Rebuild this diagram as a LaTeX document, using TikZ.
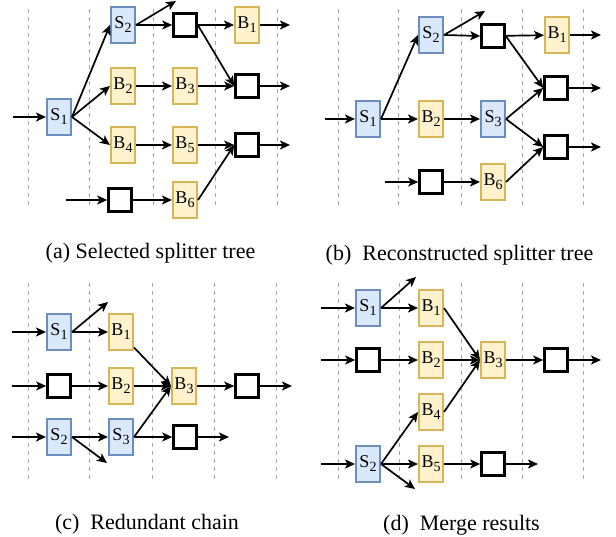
\documentclass[tikz,border=0pt]{standalone}
\usepackage{fontspec}
\setmainfont{Liberation Serif}
\usetikzlibrary{arrows.meta}
\definecolor{blueF}{HTML}{DAE8FC}
\definecolor{blueB}{HTML}{6C8EBF}
\definecolor{yelF}{HTML}{FFF2CC}
\definecolor{yelB}{HTML}{D6B656}
\newcommand\lbl[2]{#1\raisebox{-0.22em}{\fontsize{14}{14}\selectfont #2}}
\tikzset{
  bl/.style={draw=blueB, fill=blueF, line width=2pt, minimum width=24pt, minimum height=36pt, inner sep=0pt, font=\fontsize{18}{18}\selectfont},
  yl/.style={draw=yelB, fill=yelF, line width=2pt, minimum width=24pt, minimum height=36pt, inner sep=0pt, font=\fontsize{18}{18}\selectfont},
  eb/.style={draw=black, fill=white, line width=2.6pt, minimum width=23pt, minimum height=23pt, inner sep=0pt},
  ar/.style={-{Stealth[length=10pt,width=9pt,inset=2.5pt]}, line width=1.7pt},
  gridl/.style={draw=gray!70, dash pattern=on 4pt off 4pt, line width=0.8pt},
  captxt/.style={anchor=base, font=\fontsize{22}{22}\selectfont, inner sep=0pt},
}
\begin{document}
\begin{tikzpicture}[x=1pt,y=-1pt]
\useasboundingbox (0,0) rectangle (616,537);
% grid lines
\foreach \x in {28,89,153,215,277}{\draw[gridl] (\x,9) -- (\x,209);}
\foreach \x in {338,398,461,522,583}{\draw[gridl] (\x,9) -- (\x,209);}
\foreach \x in {28,89,152,214,276}{\draw[gridl] (\x,283) -- (\x,483);}
\foreach \x in {338,399,461,522,583}{\draw[gridl] (\x,283) -- (\x,483);}

% ---------------- (a)
\node[bl] (aS1) at (59,117) {\lbl{S}{1}};
\node[bl] (aS2) at (123,25) {\lbl{S}{2}};
\node[yl] (aB2) at (123,86) {\lbl{B}{2}};
\node[yl] (aB4) at (123,145) {\lbl{B}{4}};
\node[eb] (aE4) at (120,200) {};
\node[eb] (aE1) at (185,25) {};
\node[yl] (aB3) at (185,86) {\lbl{B}{3}};
\node[yl] (aB5) at (185,145) {\lbl{B}{5}};
\node[yl] (aB6) at (185,200) {\lbl{B}{6}};
\node[yl] (aB1) at (247,25) {\lbl{B}{1}};
\node[eb] (aE2) at (247,86) {};
\node[eb] (aE3) at (247,145) {};
\coordinate (aIn) at (13,117);
\coordinate (aIn4) at (66,200);
\coordinate (aUp) at (176,1);
\coordinate (aO1) at (290,25);
\coordinate (aO2) at (290,86);
\coordinate (aO3) at (290,145);
\draw[ar] (aIn) -- (aS1);
\draw[ar] (aS1.east) -- (aS2.west);
\draw[ar] (aS1.east) -- (aB2.west);
\draw[ar] (aS1.east) -- (aB4.west);
\draw[ar] (aS2.east) -- (aUp);
\draw[ar] (aS2.east) -- (aE1.west);
\draw[ar] (aB2) -- (aB3);
\draw[ar] (aB4) -- (aB5);
\draw[ar] (aIn4) -- (aE4);
\draw[ar] (aE4) -- (aB6);
\draw[ar] (aE1) -- (aB1);
\draw[ar] (aE1.east) -- (aE2.west);
\draw[ar] (aB3) -- (aE2);
\draw[ar] (aB5) -- (aE3);
\draw[ar] (aB6.east) -- (aE3.west);
\draw[ar] (aB1) -- (aO1);
\draw[ar] (aE2) -- (aO2);
\draw[ar] (aE3) -- (aO3);
\node[captxt] (capa) at (150.5,259) {(a) Selected splitter tree};

% ---------------- (b)
\node[bl] (bS1) at (368,119) {\lbl{S}{1}};
\node[bl] (bS2) at (431,35) {\lbl{S}{2}};
\node[yl] (bB2) at (431,119) {\lbl{B}{2}};
\node[bl] (bS3) at (493,119) {\lbl{S}{3}};
\node[eb] (bE1) at (493,36) {};
\node[yl] (bB1) at (557,35) {\lbl{B}{1}};
\node[eb] (bE2) at (556,88) {};
\node[eb] (bE3) at (556,147) {};
\node[eb] (bE4) at (431,182) {};
\node[yl] (bB6) at (493,182) {\lbl{B}{6}};
\coordinate (bIn) at (325,119);
\coordinate (bIn4) at (385,182);
\coordinate (bUp) at (485,11);
\coordinate (bO1) at (601,35);
\coordinate (bO2) at (601,88);
\coordinate (bO3) at (601,147);
\draw[ar] (bIn) -- (bS1);
\draw[ar] (bS1.east) -- (bS2.west);
\draw[ar] (bS1) -- (bB2);
\draw[ar] (bB2) -- (bS3);
\draw[ar] (bS2.east) -- (bUp);
\draw[ar] (bS2.east) -- (bE1.west);
\draw[ar] (bE1) -- (bB1);
\draw[ar] (bE1.east) -- (bE2.west);
\draw[ar] (bS3.east) -- (bE2.west);
\draw[ar] (bS3.east) -- (bE3.west);
\draw[ar] (bB6.east) -- (bE3.west);
\draw[ar] (bIn4) -- (bE4);
\draw[ar] (bE4) -- (bB6);
\draw[ar] (bB1) -- (bO1);
\draw[ar] (bE2) -- (bO2);
\draw[ar] (bE3) -- (bO3);
\node[captxt] (capb) at (459.5,261) {(b)\ \ Reconstructed splitter tree};

% ---------------- (c)
\node[bl] (cS1) at (59,332) {\lbl{S}{1}};
\node[yl] (cB1) at (121,332) {\lbl{B}{1}};
\node[eb] (cE2) at (59,386) {};
\node[yl] (cB2) at (121,386) {\lbl{B}{2}};
\node[yl] (cB3) at (184,386) {\lbl{B}{3}};
\node[eb] (cE5) at (247,386) {};
\node[bl] (cS2) at (59,437) {\lbl{S}{2}};
\node[bl] (cS3) at (121,437) {\lbl{S}{3}};
\node[eb] (cE3) at (185,437) {};
\coordinate (cIn1) at (12,332);
\coordinate (cIn2) at (12,386);
\coordinate (cIn3) at (12,437);
\coordinate (cUp) at (108,302);
\coordinate (cDn) at (107,463);
\coordinate (cO1) at (292,386);
\coordinate (cO2) at (229,437);
\draw[ar] (cIn1) -- (cS1);
\draw[ar] (cIn2) -- (cE2);
\draw[ar] (cIn3) -- (cS2);
\draw[ar] (cS1.east) -- (cUp);
\draw[ar] (cS1) -- (cB1);
\draw[ar] (cE2) -- (cB2);
\draw[ar] (cS2) -- (cS3);
\draw[ar] (cS2.east) -- (cDn);
\draw[ar] (cB1.-50) -- (cB3.west);
\draw[ar] (cB2) -- (cB3);
\draw[ar] (cS3.east) -- (cB3.west);
\draw[ar] (cS3) -- (cE3);
\draw[ar] (cB3) -- (cE5);
\draw[ar] (cE5) -- (cO1);
\draw[ar] (cE3) -- (cO2);
\node[captxt] (capc) at (147,529) {(c)\ \ Redundant chain};

% ---------------- (d)
\node[bl] (dS1) at (368,308) {\lbl{S}{1}};
\node[yl] (dB1) at (431,308) {\lbl{B}{1}};
\node[eb] (dE2) at (368,360) {};
\node[yl] (dB2) at (431,360) {\lbl{B}{2}};
\node[yl] (dB3) at (493,360) {\lbl{B}{3}};
\node[eb] (dE5) at (556,360) {};
\node[yl] (dB4) at (431,412) {\lbl{B}{4}};
\node[bl] (dS2) at (368,464) {\lbl{S}{2}};
\node[yl] (dB5) at (431,464) {\lbl{B}{5}};
\node[eb] (dE4) at (493,464) {};
\coordinate (dIn1) at (321,308);
\coordinate (dIn2) at (321,360);
\coordinate (dIn3) at (321,464);
\coordinate (dUp) at (416,277);
\coordinate (dDn) at (415,489);
\coordinate (dO1) at (601,360);
\coordinate (dO2) at (538,464);
\draw[ar] (dIn1) -- (dS1);
\draw[ar] (dIn2) -- (dE2);
\draw[ar] (dIn3) -- (dS2);
\draw[ar] (dS1.east) -- (dUp);
\draw[ar] (dS1) -- (dB1);
\draw[ar] (dE2) -- (dB2);
\draw[ar] (dS2.east) -- (dB4.west);
\draw[ar] (dS2) -- (dB5);
\draw[ar] (dS2.east) -- (dDn);
\draw[ar] (dB1.east) -- (dB3.west);
\draw[ar] (dB2) -- (dB3);
\draw[ar] (dB4.east) -- (dB3.west);
\draw[ar] (dB3) -- (dE5);
\draw[ar] (dB5) -- (dE4);
\draw[ar] (dE5) -- (dO1);
\draw[ar] (dE4) -- (dO2);
\node[captxt] (capd) at (461.5,530) {(d)\ \ Merge results};
\end{tikzpicture}
\end{document}
